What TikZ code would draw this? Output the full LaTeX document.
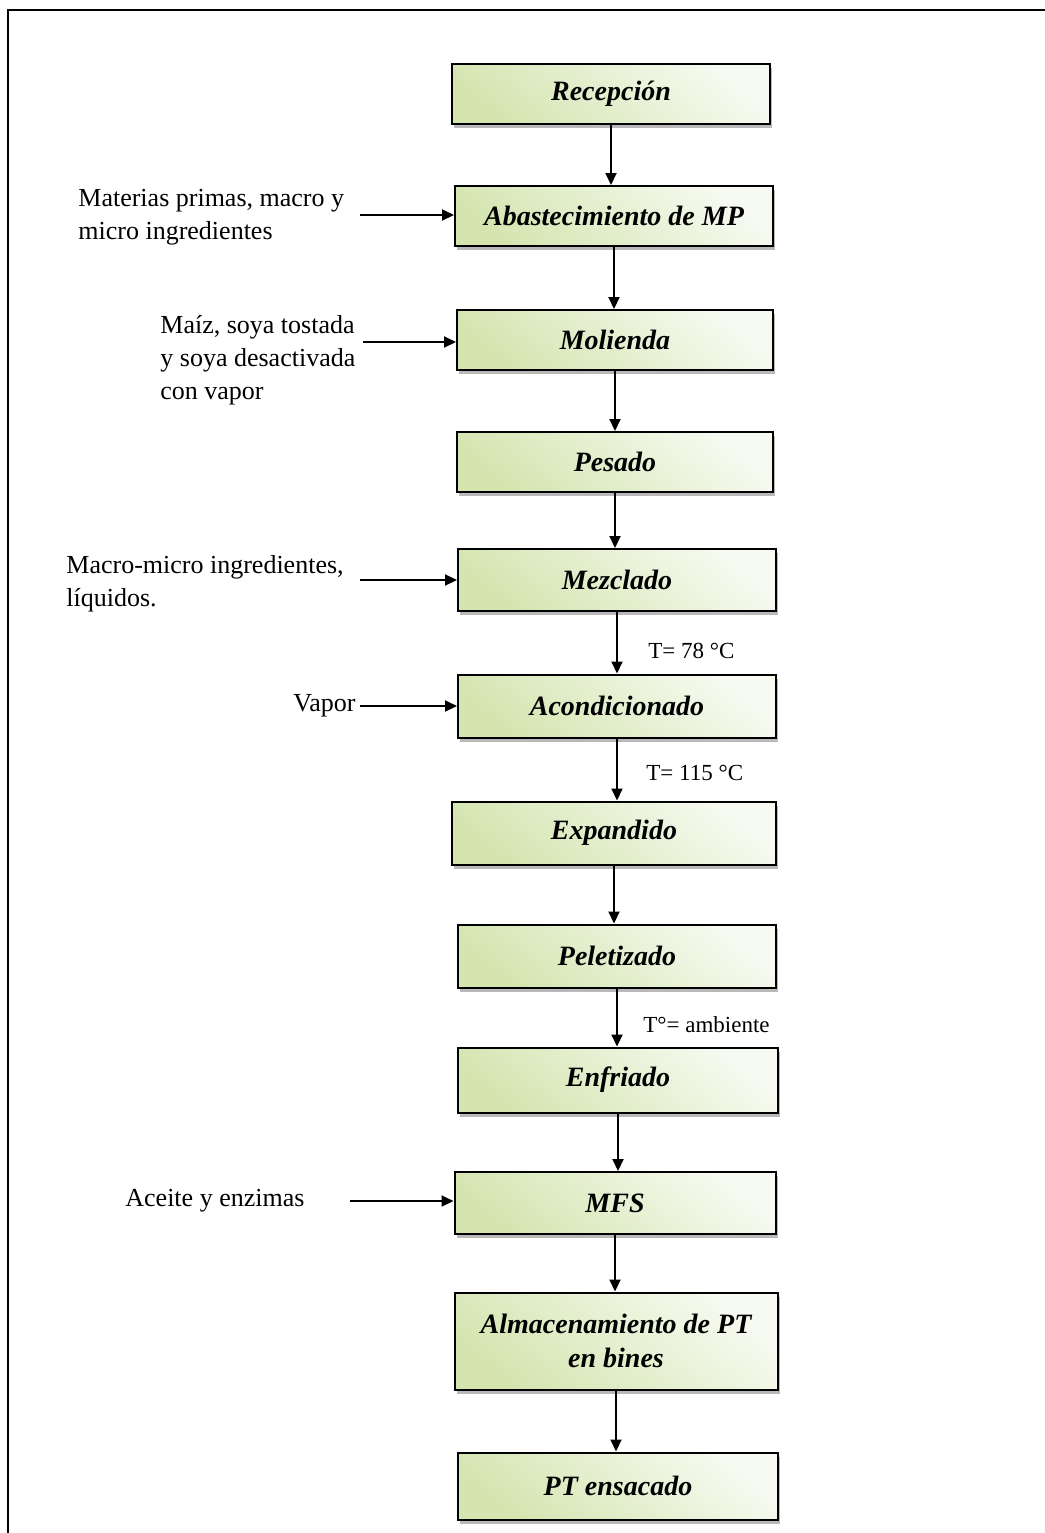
\documentclass[tikz,border=0pt]{standalone}
\usepackage{fontspec}
\setmainfont{Liberation Serif}
\usetikzlibrary{arrows.meta,shadows}

\definecolor{paleg}{RGB}{247,250,241}
\definecolor{deepg}{RGB}{212,229,176}

\tikzset{
  stepbox/.style={draw=black, line width=1pt, inner sep=0pt,
    minimum width=159pt, minimum height=30pt,
    top color=paleg, bottom color=deepg, shading angle=-40,
    drop shadow={shadow xshift=1.2pt, shadow yshift=-2pt, fill=black!55, opacity=0.5},
    font=\fontsize{14}{17}\selectfont\bfseries\itshape, align=center},
  sidetext/.style={inner sep=0pt, anchor=west, align=left,
    font=\fontsize{13}{16.5}\selectfont},
  templabel/.style={inner sep=0pt, anchor=west,
    font=\fontsize{11.5}{14}\selectfont},
  flow/.style={line width=1pt, -{Triangle[length=6pt,width=5.5pt]}}
}

\begin{document}
\begin{tikzpicture}[x=0.5pt, y=-0.5pt]
  \useasboundingbox (0,0) rectangle (1045,1533);

  % outer frame
  \draw[line width=1.1pt] (8,1533) -- (8,10) -- (1045,10);

  % process steps
  \node[stepbox] (b1)  at (611,94)   {Recepción};
  \node[stepbox] (b2)  at (614,216)  {Abastecimiento de MP};
  \node[stepbox, minimum width=158pt] (b3)  at (615,340)  {Molienda};
  \node[stepbox, minimum width=158pt] (b4)  at (615,462)  {Pesado};
  \node[stepbox, minimum height=31pt] (b5)  at (617,580)  {Mezclado};
  \node[stepbox, minimum height=31.5pt] (b6)  at (617,706)  {Acondicionado};
  \node[stepbox, minimum width=162pt, minimum height=31.5pt] (b7)  at (614,833)  {Expandido};
  \node[stepbox, minimum height=31.5pt] (b8)  at (617,956)  {Peletizado};
  \node[stepbox, minimum width=160pt, minimum height=32.5pt] (b9)  at (618,1080) {Enfriado};
  \node[stepbox, minimum width=160.5pt, minimum height=31pt] (b10) at (615,1203) {MFS};
  \node[stepbox, minimum width=161.5pt, minimum height=48.5pt] (b11) at (616,1341) {Almacenamiento de PT\\en bines};
  \node[stepbox, minimum width=160pt, minimum height=33.5pt] (b12) at (618,1486) {PT ensacado};

  % main flow
  \foreach \a/\b in {b1/b2,b2/b3,b3/b4,b4/b5,b5/b6,b6/b7,b7/b8,b8/b9,b9/b10,b10/b11,b11/b12}
    \draw[flow] (\a.south) -- (\a.south |- \b.north);

  % inputs
  \node[sidetext] (t1) at (78,217) {Materias primas, macro y\\micro ingredientes};
  \node[sidetext] (t2) at (160,360) {Maíz, soya tostada\\y soya desactivada\\con vapor};
  \node[sidetext] (t3) at (66,584) {Macro-micro ingredientes,\\líquidos.};
  \node[sidetext] (t4) at (293,706) {Vapor};
  \node[sidetext] (t5) at (125,1201) {Aceite y enzimas};

  \coordinate (s1) at (360,215);
  \coordinate (s2) at (363,342);
  \coordinate (s3) at (360,580);
  \coordinate (s4) at (360,706);
  \coordinate (s5) at (350,1201);
  \draw[flow] (s1) -- (s1 -| b2.west);
  \draw[flow] (s2) -- (s2 -| b3.west);
  \draw[flow] (s3) -- (s3 -| b5.west);
  \draw[flow] (s4) -- (s4 -| b6.west);
  \draw[flow] (s5) -- (s5 -| b10.west);

  % process conditions
  \node[templabel] (c1) at (648,651)  {T= 78 °C};
  \node[templabel] (c2) at (646,773)  {T= 115 °C};
  \node[templabel] (c3) at (643,1025) {T°= ambiente};
\end{tikzpicture}
\end{document}
